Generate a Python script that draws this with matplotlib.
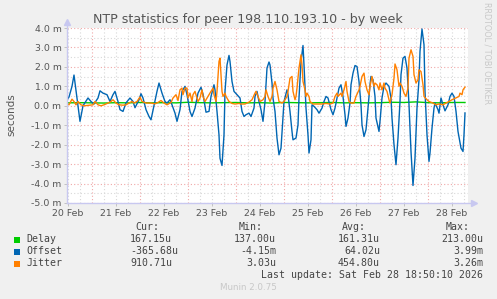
import numpy as np
import matplotlib.pyplot as plt
from matplotlib.patches import Rectangle

# tid i timer fra 20 Feb 00:00, verdier i millisekunder
offset_t = [11.5, 12.5, 14, 15, 16.5, 18, 19.5, 22, 23.5, 25, 27, 28, 29.5, 31.5, 33, 34.5, 35.5, 37, 38, 39.5,
            41, 43, 44.5, 45.5, 47.5, 48.5, 49.5, 51, 52.5, 53.5, 55, 56.5, 57.5, 59, 60.5, 61.5, 63, 64, 65.5, 66.5,
            68, 69, 70.5, 71.5, 73, 74, 75.5, 77, 78.5, 79.5, 81, 82.5, 83.5, 85, 85.5, 86.5, 87.5, 88, 89, 90,
            90.5, 91.5, 92.5, 93, 94, 95, 96.5, 98, 99, 100, 101, 102.5, 103.5, 105, 105.5, 106.5, 107.5, 108.5, 109.5, 110.5,
            111.5, 112.5, 113, 114, 114.5, 115.5, 116.5, 117.5, 118.5, 119.5, 120, 121.5, 122, 123, 124, 124.5, 126, 127, 127.5, 128.5,
            129.5, 130, 131, 132, 132.5, 133.5, 134, 135, 136.5, 137.5, 139, 140, 141, 142, 143.5, 144.5, 145.5, 146.5, 147.5, 148.5,
            149.5, 150.5, 151, 152, 153, 153.5, 154.5, 155.5, 156.5, 157.5, 158.5, 159, 160, 161, 162, 163, 163.5, 164.5, 165.5, 166,
            167.5, 168, 169, 170, 171, 172.5, 173.5, 174, 175, 176, 177, 178, 178.5, 179.5, 180.5, 181.5, 182.5, 183.5, 184.5, 185.5,
            186.5, 187.5, 188, 189, 190, 190.5, 191.5, 192.5, 193, 194, 195, 195.5, 197, 197.5, 198.5, 199.5, 200.5, 202, 203, 204,
            205, 206, 207, 208.5, 209.5, 210, 210.5]
offset_v = [0.31, 0.45, 1.0, 1.58, 0.4, -0.8, 0.0, 0.4, 0.22, 0.09, 0.4, 0.77, 0.65, 0.57, 0.22, 0.57, 0.74, 0.22, -0.2, -0.29,
            0.15, 0.4, 0.22, -0.1, 0.31, 0.62, 0.4, -0.2, -0.55, -0.72, 0.0, 0.74, 1.17, 0.65, 0.22, 0.14, 0.31, 0.05, -0.38, -0.8,
            -0.2, 0.74, 1.0, 0.57, -0.29, -0.55, -0.12, 0.65, 0.95, 0.6, -0.33, -0.29, 0.48, 1.08, 0.82, -0.29, -1.5, -2.7, -3.07, -1.5,
            0.74, 2.1, 2.59, 2.28, 1.25, 0.74, 0.57, 0.4, -0.29, -0.55, -0.46, -0.38, -0.55, -0.12, 0.48, 0.74, 0.22, -0.2, -0.8, 0.22,
            1.94, 2.25, 2.1, 1.17, 0.4, -0.29, -1.66, -2.52, -2.18, -0.63, 0.22, 0.82, 0.57, -0.29, -1.32, -1.75, -1.66, -0.98, 0.4, 2.28,
            3.1, 2.1, -0.12, -1.5, -2.43, -1.75, 0.05, -0.03, -0.2, -0.38, -0.12, 0.22, 0.48, 0.4, -0.2, -0.46, -0.12, 0.4, 0.91, 1.08,
            0.48, -0.46, -1.06, -0.63, 0.14, 1.08, 1.68, 2.07, 2.02, 1.25, 0.05, -0.98, -1.58, -1.23, -0.12, 1.08, 1.51, 1.34, 0.48, -0.63,
            -1.32, -0.8, 0.4, 1.0, 1.17, 1.0, 0.4, -0.63, -2.0, -3.03, -1.66, 0.22, 1.6, 2.45, 2.54, 1.94, 0.05, -2.35, -4.1, -2.69,
            -0.12, 1.34, 2.8, 3.95, 3.14, 0.74, -1.5, -2.86, -2.43, -1.15, -0.12, 0.14, -0.2, -0.38, 0.4, 0.05, -0.26, 0.05, 0.48, 0.65,
            0.48, -0.29, -1.32, -2.18, -2.35, -1.5, -0.37]

jitter_t = [11.5, 12.5, 14, 15, 16, 17, 18.5, 20, 22.5, 24.5, 25.5, 27, 28.5, 30, 32, 33.5, 34.5, 36, 37.5, 39.5,
            41, 42.5, 44, 45, 46.5, 48, 49, 51, 53.5, 55.5, 57, 58.5, 60, 61.5, 63.5, 64.5, 66, 67, 68, 69,
            69.5, 70.5, 71.5, 72, 73, 74, 74.5, 75.5, 76.5, 77, 78, 79, 79.5, 80.5, 81.5, 82.5, 83.5, 84.5, 85, 86,
            86.5, 87.5, 88, 88.5, 89, 89.5, 90.5, 91, 92.5, 94, 95.5, 97.5, 98.5, 100.5, 102.5, 104, 105.5, 106, 107, 108,
            109.5, 110.5, 111, 112, 113, 114, 114.5, 115.5, 116.5, 117.5, 119, 120, 121.5, 122, 123, 124, 124.5, 125.5, 126, 126.5,
            127.5, 128.5, 129, 129.5, 130.5, 131, 131.5, 132.5, 133, 134.5, 136.5, 139, 141, 143, 144.5, 145.5, 146.5, 147, 148.5, 149,
            150, 151, 151.5, 152.5, 153.5, 155, 156, 157.5, 158, 159, 160, 160.5, 161.5, 162.5, 163, 164, 165, 165.5, 166.5, 167.5,
            168, 169, 170, 170.5, 171.5, 172.5, 173, 174, 175, 175.5, 176.5, 177.5, 178, 179, 180, 180.5, 181, 182, 182.5, 183.5,
            184.5, 185, 186, 187, 187.5, 188.5, 189.5, 190, 191.5, 192.5, 194.5, 196, 197.5, 199.5, 201, 202.5, 204, 205, 206.5, 207.5,
            208, 209, 209.5, 210.5]
jitter_v = [0.1, 0.05, 0.34, 0.22, 0.05, 0.22, 0.05, 0.0, 0.03, 0.05, 0.22, 0.05, 0.0, 0.05, 0.14, 0.22, 0.31, 0.14, 0.05, 0.03,
            0.05, 0.14, 0.22, 0.14, 0.22, 0.45, 0.22, 0.14, 0.14, 0.1, 0.17, 0.27, 0.14, 0.05, 0.17, 0.4, 0.57, 0.27, 0.82, 0.91,
            0.57, 0.91, 0.91, 0.4, 0.65, 0.22, 0.57, 0.74, 0.4, 0.22, 0.4, 0.82, 0.48, 0.22, 0.4, 0.57, 0.74, 0.91, 0.57, 0.22,
            0.74, 2.28, 2.45, 1.6, 0.74, 0.48, 0.65, 0.48, 0.22, 0.12, 0.09, 0.12, 0.09, 0.09, 0.19, 0.31, 0.65, 0.74, 0.48, 0.22,
            0.31, 0.48, 0.82, 0.48, 0.22, 0.48, 0.91, 1.25, 0.82, 0.22, 0.14, 0.22, 0.48, 0.74, 1.42, 1.51, 0.74, 0.31, 0.48, 0.91,
            1.94, 2.62, 2.1, 1.25, 0.82, 0.48, 0.65, 0.48, 0.22, 0.09, 0.09, 0.09, 0.12, 0.09, 0.14, 0.48, 0.65, 0.48, 0.65, 0.48,
            0.82, 1.25, 0.74, 0.22, 0.14, 0.14, 0.48, 0.82, 1.0, 1.51, 1.68, 1.25, 0.82, 0.57, 1.0, 1.51, 1.0, 1.17, 1.08, 0.82,
            1.17, 0.82, 1.17, 0.91, 0.74, 0.31, 0.14, 0.57, 1.42, 2.15, 1.85, 1.0, 1.17, 1.0, 0.65, 0.57, 0.48, 0.91, 2.45, 2.88,
            2.54, 1.6, 1.17, 1.34, 1.85, 1.76, 1.08, 0.48, 0.31, 0.22, 0.14, 0.05, 0.09, 0.05, 0.14, 0.22, 0.31, 0.36, 0.43, 0.48,
            0.65, 0.57, 0.82, 0.96]

delay_t = [11.5, 18, 24, 30, 36, 42, 48, 54, 60, 66, 72, 78, 84, 90, 96, 102, 108, 114, 120, 126,
           132, 138, 144, 150, 156, 162, 168, 174, 180, 186, 192, 198, 204, 210.5]
delay_v = [0.15, 0.16, 0.15, 0.14, 0.16, 0.15, 0.17, 0.15, 0.16, 0.15, 0.18, 0.16, 0.15, 0.16, 0.17, 0.15, 0.16, 0.14, 0.17, 0.16,
           0.15, 0.16, 0.17, 0.15, 0.16, 0.15, 0.16, 0.18, 0.17, 0.2, 0.16, 0.15, 0.17, 0.17]

day_labels = ['20 Feb', '21 Feb', '22 Feb', '23 Feb', '24 Feb', '25 Feb', '26 Feb', '27 Feb', '28 Feb']

rows = [('Delay', '#00CC00', '167.15u', '137.00u', '161.31u', '213.00u'),
        ('Offset', '#0066B3', '-365.68u', '-4.15m', '64.02u', '3.99m'),
        ('Jitter', '#FF8000', '910.71u', '3.03u', '454.80u', '3.26m')]

W, H = 497, 299
fig = plt.figure(figsize=(W / 100, H / 100), dpi=100, facecolor='#F0F0F0')
ax = fig.add_axes([67 / W, 96 / H, 401 / W, 175 / H])
ax.set_facecolor('white')

# rutenett
for y in np.arange(-5, 4.01, 0.5):
    major = float(y).is_integer()
    ax.axhline(y, color='#F0A8A8' if major else '#D8D8D8', lw=0.8, ls=(0, (1, 2)), zorder=1)
for h in np.arange(12, 212, 6):
    major = h % 24 == 0
    ax.axvline(h, color='#F0A8A8' if major else '#D8D8D8', lw=0.8, ls=(0, (1, 2)), zorder=1)

ax.plot(delay_t, delay_v, color='#00CC00', lw=1, zorder=3)
ax.plot(offset_t, offset_v, color='#0066B3', lw=1, zorder=4)
ax.plot(jitter_t, jitter_v, color='#FF8000', lw=1, zorder=5)

ax.set_xlim(11.5, 212)
ax.set_ylim(-5, 4)
for s in ax.spines.values():
    s.set_visible(False)

ax.set_yticks(np.arange(-5, 5))
ax.set_yticklabels([f'{v:.1f} m' for v in np.arange(-5, 5)])
ax.set_xticks(np.arange(12, 212, 24))
ax.set_xticklabels(day_labels)
ax.tick_params(axis='both', length=2, width=0.6, color='#BBBBBB', labelcolor='#555555', labelsize=6.75, pad=2)

# akser med piler
axc = '#C8C8F0'
ax.plot([0, 0], [0, 1 + 6 / 175], transform=ax.transAxes, color=axc, lw=1, clip_on=False, zorder=6)
ax.plot([0, 1 + 6 / 401], [0, 0], transform=ax.transAxes, color=axc, lw=1, clip_on=False, zorder=6)
ax.plot(0, 1 + 6 / 175, marker='^', ms=4, color=axc, transform=ax.transAxes, clip_on=False)
ax.plot(1 + 6 / 401, 0, marker='>', ms=4, color=axc, transform=ax.transAxes, clip_on=False)

fig.text(248 / W, 1 - 19 / H, 'NTP statistics for peer 198.110.193.10 - by week',
         ha='center', va='center', fontsize=9.1, color='#555555')
fig.text(11 / W, 1 - 115 / H, 'seconds', rotation=90, ha='center', va='center', fontsize=7.5, color='#555555')
fig.text(487 / W, 1 - 53 / H, 'RRDTOOL / TOBI OETIKER', rotation=270, ha='center', va='center',
         fontsize=5.8, color='#C8C8C8')

# legende
mono = dict(family='DejaVu Sans Mono', fontsize=7.1, color='#444444', va='center')
head_x = [159.5, 263, 366, 470]
val_x = [130, 276, 380, 483]
for i, head in enumerate(['Cur:', 'Min:', 'Avg:', 'Max:']):
    fig.text(head_x[i] / W, 1 - 227 / H, head, ha='right', **mono)
for r, (name, c, *vals) in enumerate(rows):
    yy = 239.5 + r * 12
    fig.patches.append(Rectangle((14 / W, 1 - (yy + 3) / H), 6 / W, 6 / H, transform=fig.transFigure,
                                 facecolor=c, edgecolor='none'))
    fig.text(26 / W, 1 - yy / H, name, ha='left', **mono)
    for i, v in enumerate(vals):
        fig.text(val_x[i] / W, 1 - yy / H, v, ha='left' if i == 0 else 'right', **mono)
fig.text(483 / W, 1 - 275.5 / H, 'Last update: Sat Feb 28 18:50:10 2026', ha='right', **mono)
fig.text(248 / W, 1 - 288 / H, 'Munin 2.0.75', ha='center', va='center', fontsize=6.3, color='#C8C8C8')

fig.savefig('out.png', dpi=100, facecolor=fig.get_facecolor())
